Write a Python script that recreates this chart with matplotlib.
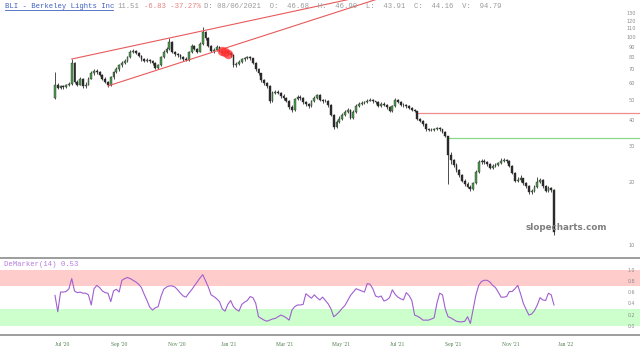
import numpy as np
import matplotlib
matplotlib.use("Agg")
import matplotlib.pyplot as plt
from matplotlib.ticker import FixedLocator, NullLocator, FixedFormatter

# ---------------- data ----------------
first_open = 51.0
closes = [
    59, 57, 58, 57.5, 58.5, 59.5, 75, 61, 59, 63,
    58, 59, 63, 67.5, 69, 68, 66, 63, 61, 58.5,
    64, 68, 70, 73, 75, 77, 80, 85, 86, 84,
    81, 78, 77, 77.5, 76.5, 75, 71, 73, 80, 85,
    88, 95, 85, 83, 82, 80, 78.5, 77.5, 85, 91,
    88, 85, 93, 106, 99, 91, 86, 87, 90, 86,
    84, 85.5, 84, 82, 73, 74, 76, 78, 79, 80,
    79, 75, 70, 67, 62, 60, 58, 49, 54, 54.5,
    54, 52, 51, 49.5, 46, 44.5, 50.5, 51.5, 51, 48.5,
    47.5, 46.5, 49, 51, 52.5, 50, 49, 49.5, 47, 42,
    37, 39, 40.5, 42, 43.5, 44.5, 41, 43.5, 46.5, 47.5,
    48.2, 48.5, 49.5, 50, 49, 48.5, 46.5, 47.5, 47, 46,
    44, 46.5, 50, 48.5, 47, 47, 46.5, 45.5, 44.5, 44,
    40.5, 39.5, 38, 36, 35.7, 35.8, 36, 36.5, 36, 35,
    33.5, 27, 25.5, 24.3, 23, 21.8, 20.3, 19.6, 19.1, 18.5,
    19.8, 22.5, 25, 25.4, 25.1, 24.5, 23.5, 24, 24.3, 24.7,
    25.3, 25.7, 25.4, 24, 22.3, 20.3, 20.6, 20.9, 19.8, 19.2,
    17.9, 18.1, 19, 20.2, 20.5, 19.2, 18.2, 18.7, 18.34, 11.51,
]
highs = [
    68, 60, 59, 59, 59.5, 60.5, 78.4, 75.5, 62, 64,
    63.5, 60.5, 64, 68.5, 70.5, 70, 69, 66.5, 64, 61.5,
    65, 69, 71.5, 74, 76.5, 78.5, 81.5, 86.5, 88, 87,
    85, 82, 79.5, 79, 78.5, 77.5, 75.5, 74.5, 81, 86.5,
    90, 99, 96, 86, 84, 83, 81, 80, 86, 92.5,
    92, 89, 94.5, 112, 107, 100, 92, 88.5, 91.5, 90.5,
    87, 87, 86.5, 85, 82.5, 75.5, 77.5, 79.5, 80.5, 81.5,
    81, 79.5, 75.5, 71, 67.5, 63, 61, 58.5, 55, 55.5,
    55.5, 54.5, 53, 51.5, 50, 47, 51, 52.5, 52.5, 51.5,
    49, 48, 50, 52, 53.5, 53, 50.5, 50.5, 50, 47.5,
    42.5, 40, 41.5, 43, 44.5, 45.5, 45, 44.5, 47.5, 48.5,
    49.5, 49.5, 50.5, 51, 50.5, 49.5, 49, 48.5, 48.5, 47.5,
    46.5, 47, 51, 50.5, 49, 48, 47.5, 47, 46, 45,
    44, 41, 40, 38.5, 36.5, 36.5, 36.6, 37, 37, 36.3,
    35.5, 33.5, 28, 26, 24.8, 23.3, 22, 20.8, 20, 19.5,
    20.2, 23, 25.5, 26, 25.8, 25.4, 24.8, 24.6, 24.8, 25.2,
    26.2, 26.3, 26, 25.6, 24.2, 22.5, 21.2, 21.8, 21.1, 20.1,
    19.4, 18.6, 19.4, 21.2, 21, 20.7, 19.4, 19.3, 19, 18.5,
]
lows = [
    50.6, 56, 56, 56.5, 57, 58, 59, 60, 58, 58.5,
    57, 57, 58.5, 62.5, 66, 66.5, 65, 62, 60, 57.5,
    58, 63, 67, 69, 72, 74, 76, 79, 83.5, 83,
    80, 77, 76, 75.5, 75, 73.5, 70, 70, 72.5, 79,
    84, 87, 84, 81.5, 80.5, 78.5, 77, 76.5, 77, 84,
    86.5, 83.5, 84.5, 92, 97, 89.5, 84.5, 84, 86, 85,
    82.5, 83, 82.5, 80, 72, 72, 73, 75, 77, 78,
    77.5, 74, 69, 66, 61, 59, 57, 48.2, 48.5, 53,
    53, 51, 50, 48.5, 45, 43.8, 44, 50, 50, 47.5,
    46.5, 45.5, 46, 48.5, 50.5, 49.5, 48, 48.5, 46, 41.5,
    36.3, 36.5, 38.5, 40, 41.5, 43, 40.5, 40.5, 43, 46,
    47, 47.5, 48, 49, 48, 47.5, 46, 46, 46.5, 45,
    43.5, 43.5, 46, 48, 46.5, 46, 45.5, 45, 44, 43.5,
    40, 39, 37.5, 35.5, 35.2, 35.2, 35.3, 35.6, 35.5, 34.5,
    33, 19.6, 24.5, 23.8, 22.5, 21.3, 20, 19.2, 18.7, 18.1,
    18.3, 19.6, 22.3, 24.6, 24.6, 24, 23.1, 23.2, 23.7, 24,
    24.5, 25, 24.9, 23.6, 21.9, 20, 20, 20.2, 19.4, 18.9,
    17.6, 17.6, 17.9, 18.8, 19.9, 18.9, 17.9, 18, 18, 11.2,
]
demarker = [
    0.54, 0.25, 0.60, 0.60, 0.61, 0.66, 0.84, 0.62, 0.59, 0.60,
    0.58, 0.58, 0.55, 0.37, 0.66, 0.72, 0.68, 0.62, 0.59, 0.58,
    0.43, 0.62, 0.65, 0.60, 0.81, 0.84, 0.86, 0.84, 0.81, 0.78,
    0.74, 0.68, 0.56, 0.45, 0.33, 0.28, 0.32, 0.34, 0.52, 0.65,
    0.69, 0.71, 0.71, 0.69, 0.64, 0.58, 0.53, 0.51, 0.58, 0.64,
    0.71, 0.78, 0.85, 0.91, 0.80, 0.69, 0.55, 0.52, 0.48, 0.43,
    0.30, 0.26, 0.38, 0.45, 0.34, 0.29, 0.26, 0.38, 0.42, 0.45,
    0.52, 0.50, 0.40, 0.16, 0.13, 0.10, 0.08, 0.10, 0.12, 0.13,
    0.16, 0.19, 0.17, 0.14, 0.10, 0.28, 0.34, 0.37, 0.37, 0.38,
    0.57, 0.53, 0.49, 0.55, 0.50, 0.46, 0.51, 0.45, 0.39, 0.30,
    0.16, 0.20, 0.25, 0.31, 0.36, 0.45, 0.54, 0.60, 0.66, 0.64,
    0.62, 0.60, 0.75, 0.74, 0.66, 0.53, 0.51, 0.53, 0.44, 0.46,
    0.50, 0.64, 0.56, 0.51, 0.48, 0.46, 0.59, 0.54, 0.45, 0.19,
    0.17, 0.14, 0.10, 0.10, 0.10, 0.12, 0.14, 0.40, 0.58, 0.55,
    0.30, 0.16, 0.14, 0.11, 0.08, 0.07, 0.07, 0.08, 0.16, 0.04,
    0.30, 0.55, 0.72, 0.79, 0.81, 0.81, 0.78, 0.72, 0.68, 0.60,
    0.51, 0.51, 0.52, 0.61, 0.61, 0.66, 0.72, 0.57, 0.40, 0.29,
    0.19, 0.21, 0.27, 0.37, 0.50, 0.46, 0.45, 0.58, 0.55, 0.37,
]
month_labels = ["Jul '20", "Sep '20", "Nov '20", "Jan '21", "Mar '21",
                "May '21", "Jul '21", "Sep '21", "Nov '21", "Jan '22"]
month_label_bar = [2.5, 23.0, 43.8, 62.4, 82.5, 102.6, 122.7, 142.8, 163.6, 183.3]
price_ticks = [10, 20, 30, 40, 50, 60, 70, 80, 90, 100, 110, 120, 130]
dem_ticks = [0.0, 0.2, 0.4, 0.6, 0.8, 1.0]

# trend channel anchors (bar index, price)
upper_line = ([6, 41], [78.4, 98.9])
lower_line = ([19, 46.6], [58.2, 76.6])
# horizontal levels (start bar, price)
red_level = (130, 43.2)
green_level = (141, 32.7)
# highlighted bars
hl_bars = [60, 61, 62]
hl_prices = [85.5, 84.5, 83.0]

# ---------------- figure ----------------
W, H = 640, 354
fig = plt.figure(figsize=(6.4, 3.54), dpi=100)
fig.patch.set_facecolor("white")
ax = fig.add_axes([0, 1 - 258 / H, 1, 258 / H])
ax2 = fig.add_axes([0, 1 - 335 / H, 1, 77 / H], sharex=ax)

n = len(closes)
x = np.arange(n)
c = np.array(closes, float)
o = np.concatenate([[first_open], c[:-1]])
h = np.array(highs, float)
l = np.array(lows, float)
up = c >= o

step = (554 - 55) / (n - 1)
xmin = -55 / step
xmax = (640 - 55) / step

ax.set_yscale("log")
ax.set_ylim(8.66, 150.7)
ax.set_xlim(xmin, xmax)

# wicks
ax.vlines(x, l, h, color="#303030", lw=0.6, zorder=2)
# bodies
body_lo = np.minimum(o, c)
body_hi = np.maximum(o, c)
ax.bar(x[up], body_hi[up] - body_lo[up], bottom=body_lo[up], width=0.65,
       color="#4a9e4a", edgecolor="#2f2f2f", lw=0.3, zorder=3)
ax.bar(x[~up], body_hi[~up] - body_lo[~up], bottom=body_lo[~up], width=0.65,
       color="#2a2a2a", edgecolor="#2a2a2a", lw=0.3, zorder=3)

# channel lines (straight on log scale)
for (bx, bp) in (upper_line, lower_line):
    slope = (np.log10(bp[1]) - np.log10(bp[0])) / (bx[1] - bx[0])
    xe = np.array([bx[0], xmax])
    ye = 10 ** (np.log10(bp[0]) + slope * (xe - bx[0]))
    ax.plot(xe, ye, color="#e85a5a", lw=0.8, zorder=4)

ax.plot([red_level[0], xmax], [red_level[1]] * 2, color="#f08c8c", lw=0.9, zorder=1)
ax.plot([green_level[0], xmax], [green_level[1]] * 2, color="#88d888", lw=0.9, zorder=1)

ax.scatter(hl_bars, hl_prices, s=45, color="#ff3030", alpha=0.75, lw=0, zorder=5)

ax.yaxis.set_major_locator(FixedLocator(price_ticks))
ax.yaxis.set_major_formatter(FixedFormatter([str(t) for t in price_ticks]))
ax.yaxis.set_minor_locator(NullLocator())
ax.yaxis.tick_right()
ax.tick_params(axis="y", which="both", length=0, pad=-6, labelsize=3.6, labelcolor="#8a8a8a")
for t in ax.get_yticklabels():
    t.set_ha("center")
ax.tick_params(axis="x", which="both", length=0, labelbottom=False)
for s in ax.spines.values():
    s.set_visible(False)

ax.text(566, 354 - 227, "slopecharts.com", transform=None, ha="center", va="center",
        fontsize=6.3, fontweight="bold", color="#7f7f7f", family="DejaVu Sans")

# ---------------- DeMarker panel ----------------
ax2.set_ylim(-0.165, 1.207)
ax2.axhspan(0.7, 1.0, color="#ffcccc", lw=0, zorder=0)
ax2.axhspan(0.0, 0.3, color="#ccffcc", lw=0, zorder=0)
ax2.plot(x, demarker, color="#a05fd0", lw=0.8, zorder=3)
ax2.yaxis.set_major_locator(FixedLocator(dem_ticks))
ax2.yaxis.set_major_formatter(FixedFormatter([f"{t:.1f}" for t in dem_ticks]))
ax2.yaxis.tick_right()
ax2.tick_params(axis="y", length=0, pad=-6, labelsize=3.4, labelcolor="#8a8a8a")
for t in ax2.get_yticklabels():
    t.set_ha("center")
ax2.xaxis.set_major_locator(FixedLocator(month_label_bar))
ax2.xaxis.set_major_formatter(FixedFormatter(month_labels))
ax2.tick_params(axis="x", length=0, pad=5, labelsize=4, labelcolor="#4f7f4f")
for t in ax2.get_xticklabels():
    t.set_family("Liberation Serif")
for k in ("left", "right"):
    ax2.spines[k].set_visible(False)
for k in ("top", "bottom"):
    ax2.spines[k].set_color("#8c8c8c")
    ax2.spines[k].set_linewidth(1.2)

ax2.text(4, 354 - 264, "DeMarker(14) 0.53", transform=None, ha="left", va="center",
         fontsize=5.2, family="Liberation Mono", color="#b57edc")

# ---------------- header ----------------
cw = 0.6 * 5.2 * 100 / 72  # monospace advance in px
hy = 354 - 6
pieces = [
    (0, "BLI - Berkeley Lights Inc", "#3f5fbf"),
    (26, "11.51", "#9a9a9a"),
    (32, "-6.83 -37.27%", "#e88080"),
    (46, "D: 08/06/2021  O:  46.68  H:  46.90  L:  43.91  C:  44.16  V:  94.79", "#9a9a9a"),
]
for col, s, colr in pieces:
    fig.text(5 + col * cw, hy, s, transform=None, ha="left", va="center",
             fontsize=5.2, family="Liberation Mono", color=colr)
fig.add_artist(plt.Line2D([5, 5 + 25 * cw], [354 - 10, 354 - 10], transform=None,
                          color="#3f5fbf", lw=0.6))

fig.savefig("out.png", dpi=100)
